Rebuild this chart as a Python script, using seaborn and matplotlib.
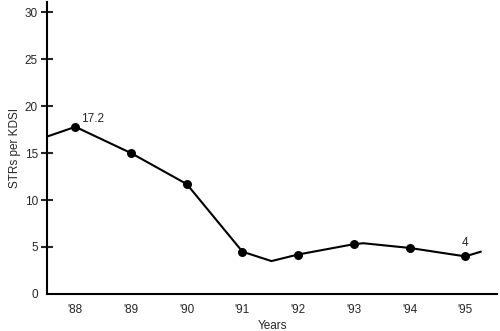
import matplotlib
matplotlib.use("Agg")
import matplotlib.pyplot as plt
import seaborn as sns
import pandas as pd

# Data
years = [1988, 1989, 1990, 1991, 1992, 1993, 1994, 1995]
year_labels = ["'88", "'89", "'90", "'91", "'92", "'93", "'94", "'95"]
str_per_kdsi = [17.8, 15.0, 11.7, 4.5, 4.2, 5.3, 4.9, 4.0]
# trend line path (includes unmarked points between years)
path_x = [1987.51, 1988, 1989, 1990, 1991, 1991.52, 1992, 1993, 1993.17, 1994, 1995, 1995.28]
path_y = [16.8, 17.8, 15.0, 11.7, 4.5, 3.5, 4.2, 5.3, 5.4, 4.9, 4.0, 4.5]
y_ticks = [0, 5, 10, 15, 20, 25, 30]
annotations = [(1988, 17.8, "17.2"), (1995, 4.0, "4")]

sns.set_style("ticks")
plt.rcParams['font.family'] = ['Liberation Sans', 'DejaVu Sans']

fig = plt.figure(figsize=(5.0, 3.31), dpi=100)
ax = fig.add_axes([0.094, 0.112, 0.90, 0.882])

path_df = pd.DataFrame({"x": path_x, "y": path_y})
pts_df = pd.DataFrame({"x": years, "y": str_per_kdsi})

sns.lineplot(data=path_df, x="x", y="y", ax=ax, color="black", linewidth=1.5,
             sort=False, estimator=None)
sns.scatterplot(data=pts_df, x="x", y="y", ax=ax, color="black", s=42,
                edgecolor="black", linewidth=0, zorder=3)

for x, y, t in annotations:
    if t == "4":
        ax.annotate(t, (x, y), xytext=(0, 5), textcoords="offset points",
                    ha="center", va="bottom", fontsize=8.5)
    else:
        ax.annotate(t, (x, y), xytext=(4, 1.5), textcoords="offset points",
                    ha="left", va="bottom", fontsize=8.5)

ax.set_xlim(1987.49, 1995.57)
ax.set_ylim(0, 31.1)
ax.set_xticks(years)
ax.set_xticklabels(year_labels, fontsize=8.5)
ax.set_yticks(y_ticks)
ax.set_yticklabels([str(v) for v in y_ticks], fontsize=8.5)
ax.tick_params(axis="x", length=0, pad=7)
ax.tick_params(axis="y", direction="inout", length=9, width=1.5, pad=2)
ax.yaxis.get_major_ticks()[0].tick1line.set_visible(False)

ax.set_xlabel("Years", fontsize=8.5, labelpad=3)
ax.set_ylabel("STRs per KDSI", fontsize=8.5, labelpad=3)

for s in ["top", "right"]:
    ax.spines[s].set_visible(False)
for s in ["left", "bottom"]:
    ax.spines[s].set_linewidth(1.5)
    ax.spines[s].set_color("black")

fig.savefig("out.png", dpi=100)
